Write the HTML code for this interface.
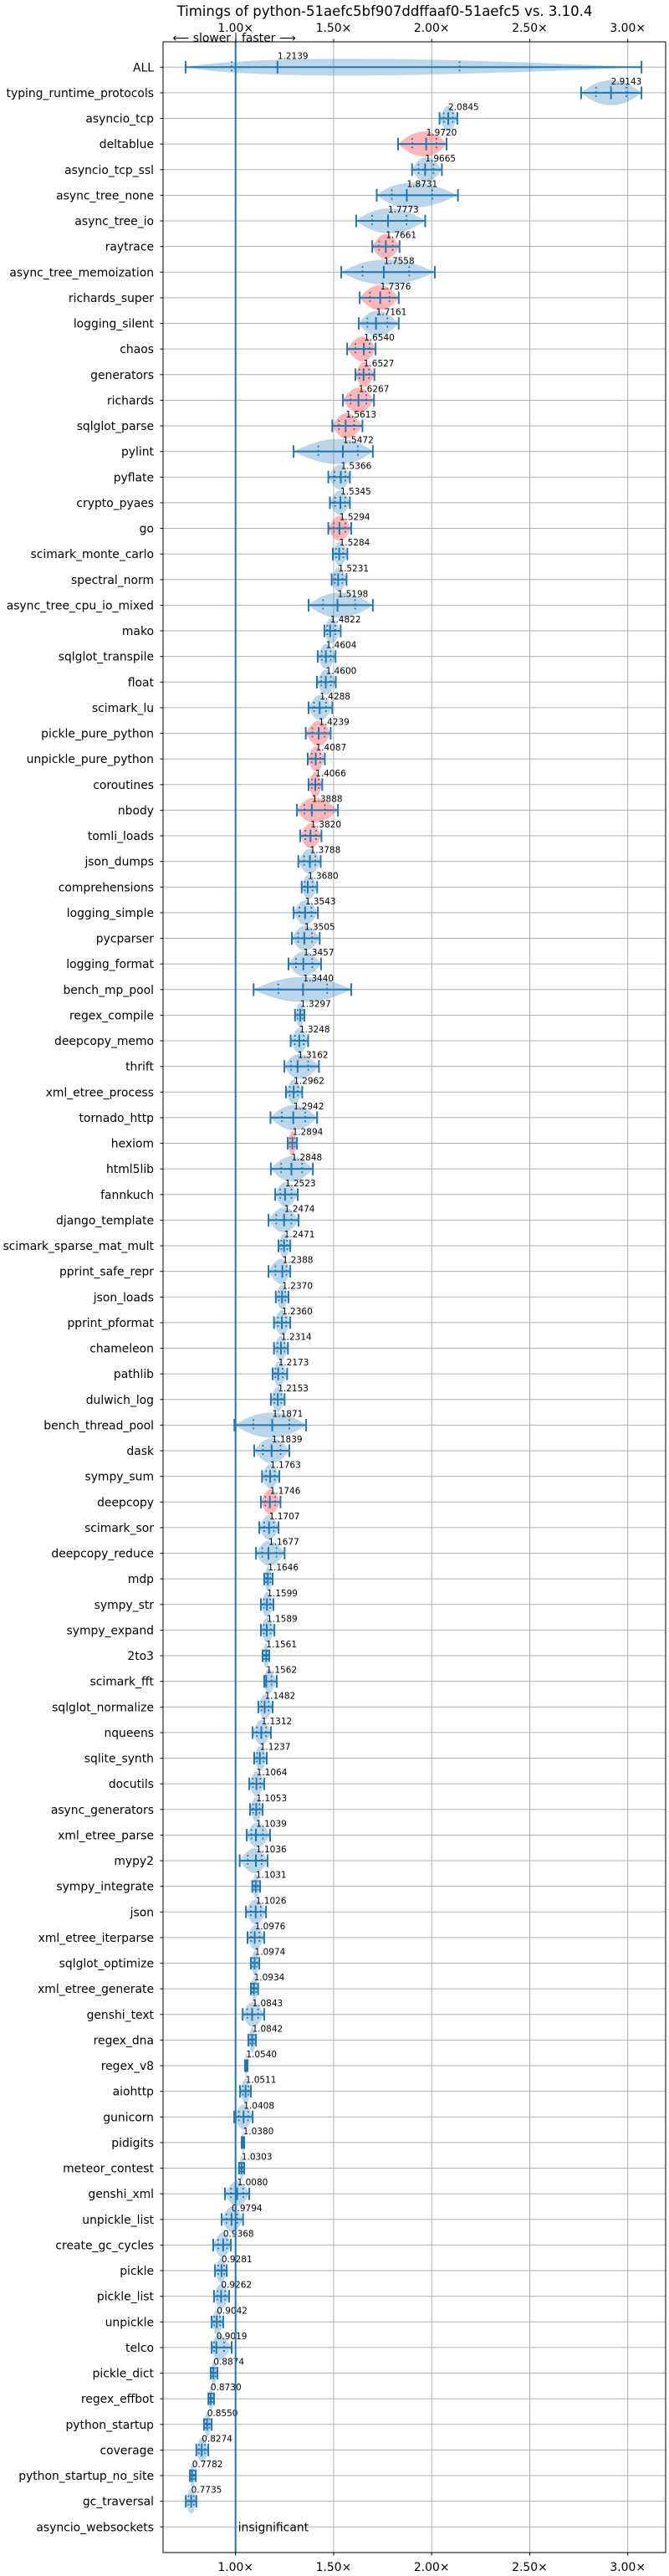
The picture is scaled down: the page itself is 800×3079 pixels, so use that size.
<!DOCTYPE html>
<html><head><meta charset="utf-8"><title>Timings</title>
<style>
html,body{margin:0;padding:0;background:#fff;}
svg{display:block;font-family:"DejaVu Sans","Liberation Sans",sans-serif;}
</style></head>
<body>
<svg id="chart" width="800" height="3079" viewBox="0 0 800 3079" xmlns="http://www.w3.org/2000/svg">
<rect x="0" y="0" width="800" height="3079" fill="#fff"/>
<text x="460" y="19" font-size="16.5" text-anchor="middle" fill="#000">Timings of python-51aefc5bf907ddffaaf0-51aefc5 vs. 3.10.4</text>
<g id="grid"></g>
<g id="marks"></g>
<g id="axes"></g>
</svg>
<script>
const names = ["ALL","typing_runtime_protocols","asyncio_tcp","deltablue","asyncio_tcp_ssl","async_tree_none","async_tree_io","raytrace","async_tree_memoization","richards_super","logging_silent","chaos","generators","richards","sqlglot_parse","pylint","pyflate","crypto_pyaes","go","scimark_monte_carlo","spectral_norm","async_tree_cpu_io_mixed","mako","sqlglot_transpile","float","scimark_lu","pickle_pure_python","unpickle_pure_python","coroutines","nbody","tomli_loads","json_dumps","comprehensions","logging_simple","pycparser","logging_format","bench_mp_pool","regex_compile","deepcopy_memo","thrift","xml_etree_process","tornado_http","hexiom","html5lib","fannkuch","django_template","scimark_sparse_mat_mult","pprint_safe_repr","json_loads","pprint_pformat","chameleon","pathlib","dulwich_log","bench_thread_pool","dask","sympy_sum","deepcopy","scimark_sor","deepcopy_reduce","mdp","sympy_str","sympy_expand","2to3","scimark_fft","sqlglot_normalize","nqueens","sqlite_synth","docutils","async_generators","xml_etree_parse","mypy2","sympy_integrate","json","xml_etree_iterparse","sqlglot_optimize","xml_etree_generate","genshi_text","regex_dna","regex_v8","aiohttp","gunicorn","pidigits","meteor_contest","genshi_xml","unpickle_list","create_gc_cycles","pickle","pickle_list","unpickle","telco","pickle_dict","regex_effbot","python_startup","coverage","python_startup_no_site","gc_traversal","asyncio_websockets"];
const medians = [1.2139,2.9143,2.0845,1.9720,1.9665,1.8731,1.7773,1.7661,1.7558,1.7376,1.7161,1.6540,1.6527,1.6267,1.5613,1.5472,1.5366,1.5345,1.5294,1.5284,1.5231,1.5198,1.4822,1.4604,1.4600,1.4288,1.4239,1.4087,1.4066,1.3888,1.3820,1.3788,1.3680,1.3543,1.3505,1.3457,1.3440,1.3297,1.3248,1.3162,1.2962,1.2942,1.2894,1.2848,1.2523,1.2474,1.2471,1.2388,1.2370,1.2360,1.2314,1.2173,1.2153,1.1871,1.1839,1.1763,1.1746,1.1707,1.1677,1.1646,1.1599,1.1589,1.1561,1.1562,1.1482,1.1312,1.1237,1.1064,1.1053,1.1039,1.1036,1.1031,1.1026,1.0976,1.0974,1.0934,1.0843,1.0842,1.0540,1.0511,1.0408,1.0380,1.0303,1.0080,0.9794,0.9368,0.9281,0.9262,0.9042,0.9019,0.8874,0.8730,0.8550,0.8274,0.7782,0.7735,1.0];
const mins = [0.745,2.762,2.04,1.8285,1.90,1.72,1.615,1.697,1.539,1.633,1.628,1.569,1.611,1.547,1.493,1.296,1.473,1.481,1.473,1.496,1.49,1.372,1.453,1.419,1.415,1.372,1.358,1.368,1.372,1.313,1.33,1.32,1.337,1.296,1.287,1.27,1.092,1.303,1.281,1.249,1.257,1.178,1.266,1.18,1.202,1.168,1.219,1.168,1.205,1.196,1.196,1.189,1.18,0.994,1.095,1.135,1.129,1.121,1.104,1.146,1.129,1.129,1.138,1.146,1.116,1.087,1.095,1.07,1.074,1.057,1.021,1.085,1.053,1.061,1.078,1.078,1.036,1.065,1.048,1.023,0.993,1.031,1.018,0.946,0.929,0.886,0.895,0.89,0.878,0.878,0.873,0.861,0.839,0.80,0.767,0.746,0.998];
const maxs = [3.07,3.07,2.131,2.076,2.052,2.134,1.967,1.836,2.016,1.832,1.832,1.714,1.708,1.706,1.647,1.70,1.583,1.583,1.59,1.57,1.566,1.70,1.536,1.51,1.511,1.493,1.485,1.455,1.442,1.522,1.438,1.434,1.416,1.42,1.429,1.436,1.59,1.351,1.37,1.425,1.34,1.416,1.313,1.394,1.317,1.321,1.279,1.279,1.27,1.279,1.267,1.263,1.25,1.36,1.274,1.223,1.229,1.219,1.25,1.189,1.193,1.198,1.172,1.21,1.189,1.18,1.159,1.146,1.138,1.176,1.163,1.125,1.155,1.146,1.121,1.115,1.146,1.104,1.061,1.078,1.087,1.044,1.044,1.07,1.038,0.976,0.955,0.967,0.937,0.98,0.908,0.89,0.878,0.861,0.797,0.80,1.002];
const slowerRows = ["deltablue","raytrace","richards_super","chaos","generators","richards","sqlglot_parse","go","pickle_pure_python","unpickle_pure_python","coroutines","nbody","tomli_loads","hexiom","deepcopy"];
const insignificantRows = ["asyncio_websockets"];
const xTicks = [1.0,1.5,2.0,2.5,3.0];
const xTickLabels = ["1.00×","1.50×","2.00×","2.50×","3.00×"];

const NS = "http://www.w3.org/2000/svg";
const L = 195, R = 796, T = 50, B = 3051;
function xs(v){ return 281.7 + (v - 1) * 234.5; }
function ys(i){ return 80.3 + i * 30.625; }
function mk(tag, attrs, parent){
  const e = document.createElementNS(NS, tag);
  for (const k in attrs) e.setAttribute(k, attrs[k]);
  parent.appendChild(e);
  return e;
}
const grid = document.getElementById('grid');
const marks = document.getElementById('marks');
const axes = document.getElementById('axes');

// grid
xTicks.forEach((t, k) => {
  const g = mk('line', {x1: xs(t), x2: xs(t), y1: T, y2: B, stroke: '#b0b0b0', 'stroke-width': 1}, grid);
  
  
  const a = mk('text', {x: xs(t), y: 38, 'font-size': 13.9, 'text-anchor': 'middle', fill: '#000'}, axes);
  a.textContent = xTickLabels[k];
  
  
  const b = mk('text', {x: xs(t), y: 3073, 'font-size': 13.9, 'text-anchor': 'middle', fill: '#000'}, axes);
  b.textContent = xTickLabels[k];
  
  
  mk('line', {x1: xs(t), x2: xs(t), y1: T - 3.5, y2: T, stroke: '#000'}, axes);
  mk('line', {x1: xs(t), x2: xs(t), y1: B, y2: B + 3.5, stroke: '#000'}, axes);
});
names.forEach((n, i) => {
  const g = mk('line', {x1: L, x2: R, y1: ys(i), y2: ys(i), stroke: '#b0b0b0', 'stroke-width': 1}, grid);
  
  
  const lab = mk('text', {x: 184, y: ys(i) + 5, 'font-size': 13.9, 'text-anchor': 'end', fill: '#000'}, axes);
  lab.textContent = n;
  
  
  mk('line', {x1: L - 3.5, x2: L, y1: ys(i), y2: ys(i), stroke: '#000'}, axes);
});

// violins
const blue = '#1f77b4';
names.forEach((n, i) => {
  const y = ys(i);
  const grp = mk('g', {}, marks);
  
  
  const lo = xs(mins[i]), hi = xs(maxs[i]), md = xs(medians[i]);
  const red = slowerRows.includes(n);
  const h = n === 'ALL' ? 10 : 15;
  const fill = red ? 'rgba(255,90,90,0.45)' : 'rgba(31,119,180,0.3)';
  const d = `M${lo},${y} Q${md},${y - 2*h} ${hi},${y} Q${md},${y + 2*h} ${lo},${y} Z`;
  const body = mk('path', {d: d, fill: fill, stroke: 'none'}, grp);
  
  
  if (insignificantRows.includes(n)) {
    const t = mk('text', {x: xs(medians[i]) + 3, y: y + 5, 'font-size': 13.9, fill: '#000'}, grp);
    t.textContent = 'insignificant';
    
    
    return;
  }
  mk('line', {x1: lo, x2: hi, y1: y, y2: y, stroke: blue, 'stroke-width': 2}, grp);
  [lo, hi, md].forEach(px => mk('line', {x1: px, x2: px, y1: y - 7.5, y2: y + 7.5, stroke: blue, 'stroke-width': 2}, grp));
  const q1 = (mins[i] + medians[i]) / 2, q3 = (medians[i] + maxs[i]) / 2;
  [q1, q3].forEach(v => mk('line', {x1: xs(v), x2: xs(v), y1: y - 7, y2: y + 7, stroke: blue, 'stroke-width': 1.8, 'stroke-dasharray': '2,3'}, grp));
  const lbl = mk('text', {x: md, y: y - 10, 'font-size': 10.5, fill: '#000'}, grp);
  lbl.textContent = medians[i].toFixed(4);
  
  
});

// reference line at 1.0
const ref = mk('line', {x1: xs(1), x2: xs(1), y1: T, y2: B, stroke: blue, 'stroke-width': 2}, marks);



// frame
const frame = mk('rect', {x: L, y: T, width: R - L, height: B - T, fill: 'none', stroke: '#000', 'stroke-width': 1}, axes);


const sl = mk('text', {x: 276, y: 50, 'font-size': 13.9, 'text-anchor': 'end', fill: '#000'}, axes);
sl.textContent = '⟵ slower';


const fs = mk('text', {x: 289, y: 50, 'font-size': 13.9, 'text-anchor': 'start', fill: '#000'}, axes);
fs.textContent = 'faster ⟶';


const sep = mk('line', {x1: 282, x2: 282, y1: 39, y2: 50, stroke: '#000'}, axes);


</script>
</body></html>
